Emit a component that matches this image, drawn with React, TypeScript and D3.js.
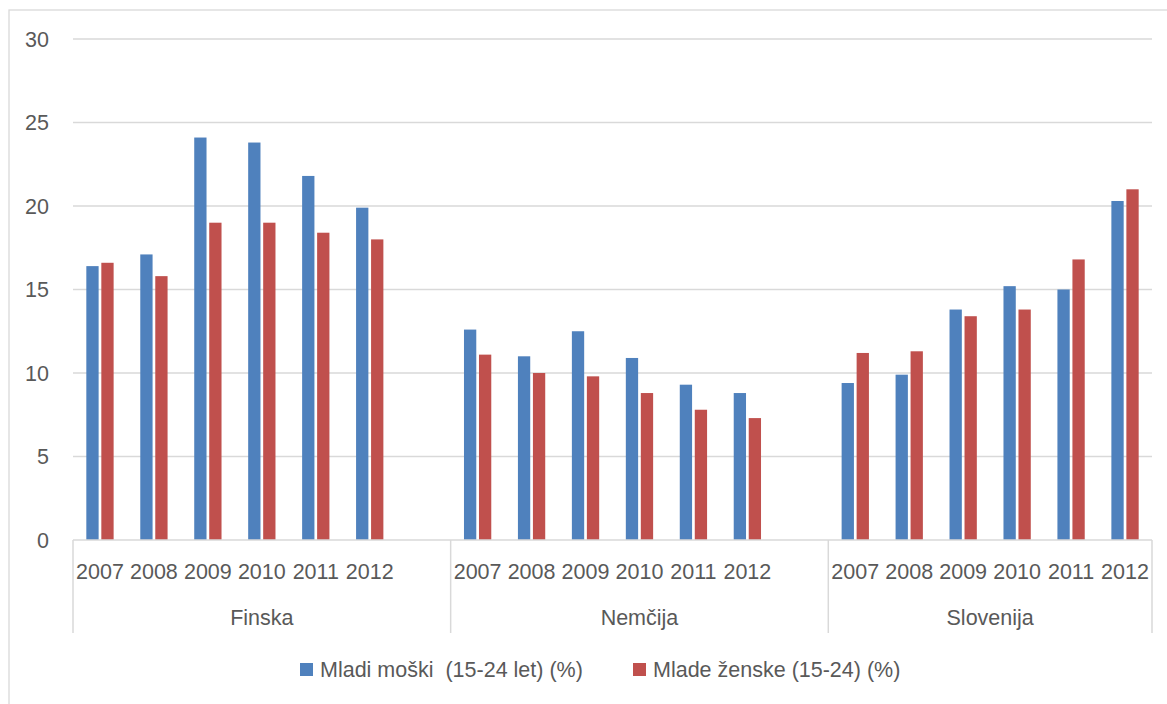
import * as d3 from "d3";

const countries = ["Finska", "Nemčija", "Slovenija"];
const years = ["2007", "2008", "2009", "2010", "2011", "2012"];
const seriesNames = ["Mladi moški  (15-24 let) (%)", "Mlade ženske (15-24) (%)"];
const colors = ["#4F81BD", "#C0504D"];

// values per country, years 2007..2012
const maleValues = [
  [16.4, 17.1, 24.1, 23.8, 21.8, 19.9],
  [12.6, 11.0, 12.5, 10.9, 9.3, 8.8],
  [9.4, 9.9, 13.8, 15.2, 15.0, 20.3],
];
const femaleValues = [
  [16.6, 15.8, 19.0, 19.0, 18.4, 18.0],
  [11.1, 10.0, 9.8, 8.8, 7.8, 7.3],
  [11.2, 11.3, 13.4, 13.8, 16.8, 21.0],
];
const yTicks = [0, 5, 10, 15, 20, 25, 30];

const W = 1167;
const H = 704;
const PLOT = { left: 73, right: 1152, top: 39, bottom: 540 };
const FONT = "'Liberation Sans', Arial, sans-serif";
const FS = 21.5;
const TEXT = "#595959";
const GRID = "#d9d9d9";

export default function App() {
  // 6 years per country, one empty slot between countries
  const slots: string[] = [];
  countries.forEach((c, i) => {
    years.forEach((y) => slots.push(`${c}-${y}`));
    if (i < countries.length - 1) slots.push(`${c}-gap`);
  });

  const x = d3.scaleBand<string>().domain(slots).range([PLOT.left, PLOT.right]).padding(0);
  const y = d3.scaleLinear().domain([0, 30]).range([PLOT.bottom, PLOT.top]);
  const clusterW = 27.3;
  const x1 = d3
    .scaleBand<number>()
    .domain([0, 1])
    .range([0, clusterW])
    .paddingInner(0.18);

  const groupStarts = countries.map((c) => x(`${c}-2007`)!);

  const bars: { key: string; xPos: number; v: number; s: number }[] = [];
  countries.forEach((c, ci) => {
    years.forEach((yr, yi) => {
      const sx = x(`${c}-${yr}`)! + (x.step() - clusterW) / 2;
      [maleValues[ci][yi], femaleValues[ci][yi]].forEach((v, s) => {
        bars.push({ key: `${c}-${yr}-${s}`, xPos: sx + x1(s)!, v, s });
      });
    });
  });

  return (
    <svg
      width={W}
      height={H}
      style={{ position: "absolute", left: 0, top: 0, background: "#fff" }}
      fontFamily={FONT}
    >
      <rect x={9} y={10} width={W} height={H} fill="#fff" stroke={GRID} strokeWidth={1.3} />

      {/* gridlines */}
      {yTicks.filter((t) => t > 0).map((t) => (
        <line key={t} x1={PLOT.left} x2={PLOT.right} y1={y(t)} y2={y(t)} stroke={GRID} strokeWidth={1.3} />
      ))}

      {/* y tick labels */}
      {yTicks.map((t) => (
        <text key={t} x={49} y={y(t) + 7.7} textAnchor="end" fontSize={FS} fill={TEXT}>
          {t}
        </text>
      ))}

      {/* bars */}
      {bars.map((b) => (
        <rect
          key={b.key}
          x={b.xPos}
          y={y(b.v)}
          width={x1.bandwidth()}
          height={y(0) - y(b.v)}
          fill={colors[b.s]}
        />
      ))}

      {/* category axis */}
      <line x1={PLOT.left} x2={PLOT.right} y1={y(0)} y2={y(0)} stroke={GRID} strokeWidth={1.5} />
      {[...groupStarts, PLOT.right].map((ex, i) => (
        <line key={i} x1={ex} x2={ex} y1={y(0)} y2={633} stroke={GRID} strokeWidth={1.5} />
      ))}
      {countries.map((c) =>
        years.map((yr) => (
          <text
            key={`${c}-${yr}`}
            x={x(`${c}-${yr}`)! + x.step() / 2}
            y={578.5}
            textAnchor="middle"
            fontSize={FS}
            fill={TEXT}
          >
            {yr}
          </text>
        ))
      )}
      {countries.map((c, i) => {
        const right = i < countries.length - 1 ? groupStarts[i + 1] : PLOT.right;
        return (
          <text key={c} x={(groupStarts[i] + right) / 2} y={625} textAnchor="middle" fontSize={FS} fill={TEXT}>
            {c}
          </text>
        );
      })}

      {/* legend */}
      <g>
        <rect x={300} y={663} width={13} height={13} fill={colors[0]} />
        <text x={320} y={676.5} fontSize={FS} fill={TEXT} style={{ whiteSpace: "pre" }}>
          {seriesNames[0]}
        </text>
        <rect x={633} y={663} width={13} height={13} fill={colors[1]} />
        <text x={653} y={676.5} fontSize={FS} fill={TEXT} style={{ whiteSpace: "pre" }}>
          {seriesNames[1]}
        </text>
      </g>
    </svg>
  );
}
